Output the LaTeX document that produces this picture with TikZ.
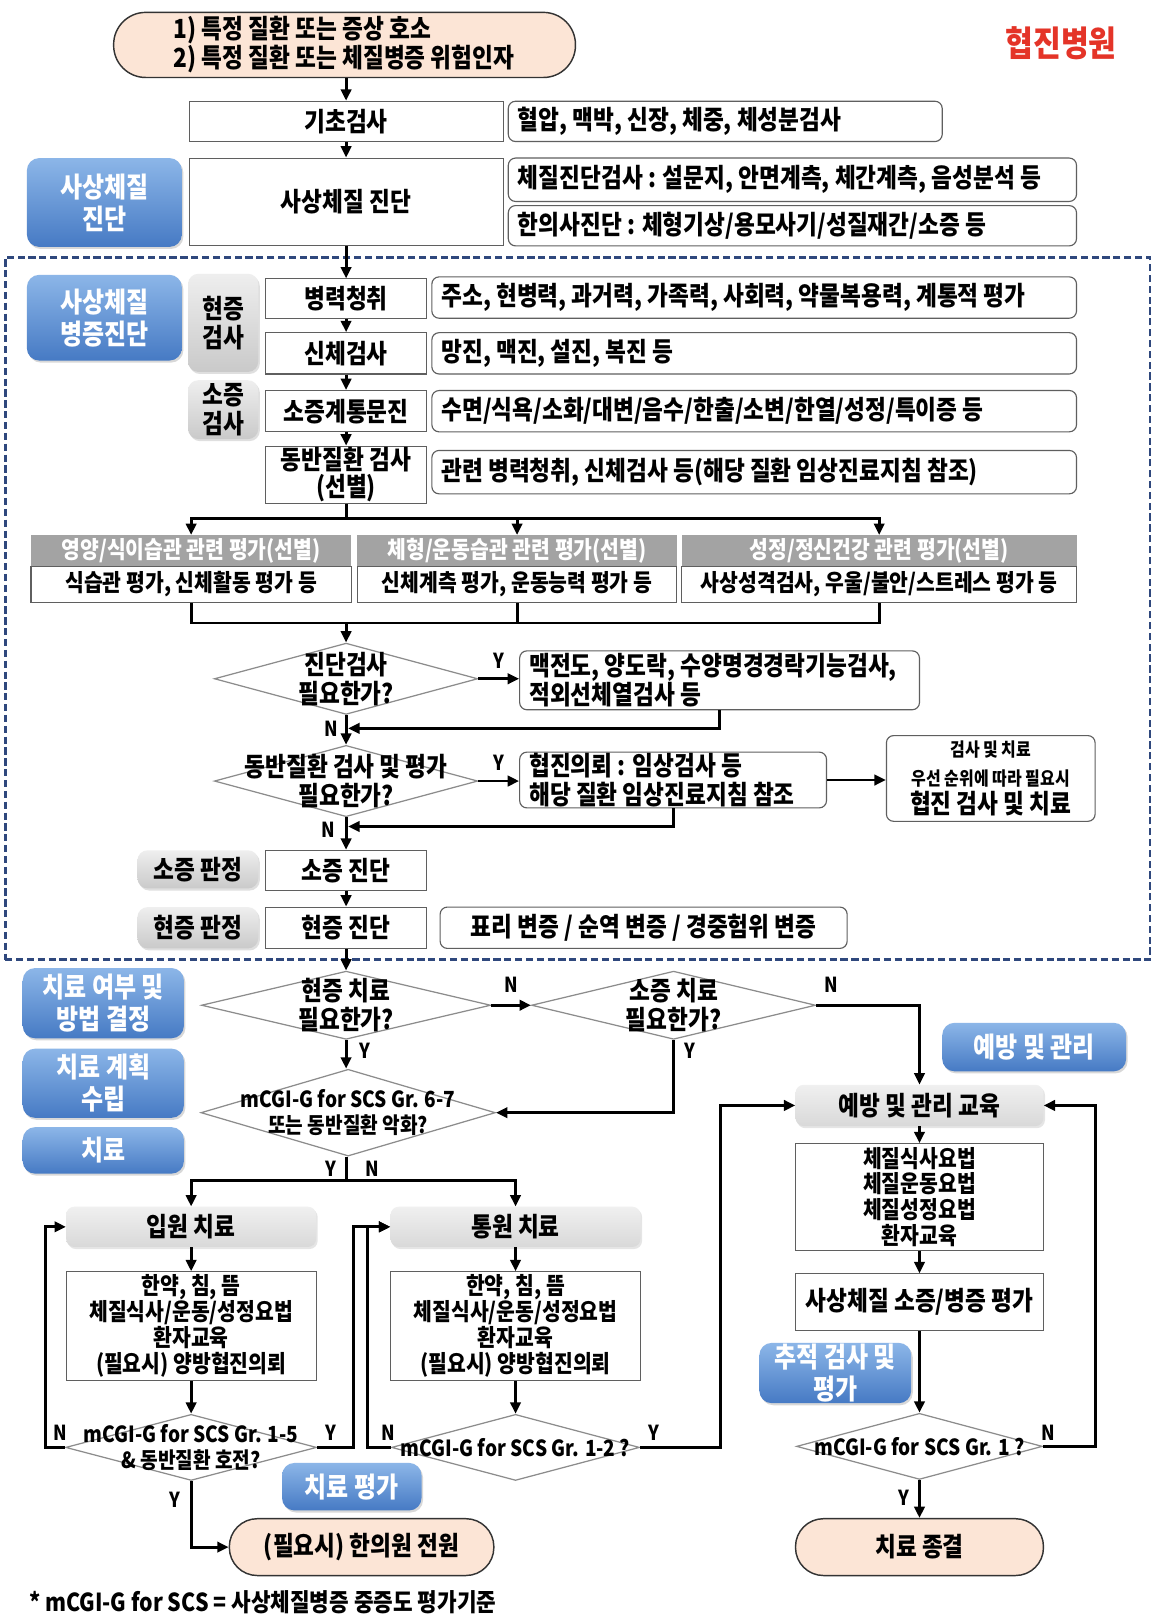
\documentclass[tikz,border=0pt]{standalone}
\usepackage{fontspec}
\setmainfont{Noto Sans CJK KR}[FakeStretch=0.86]
\usetikzlibrary{arrows.meta,shapes.geometric,shadows}
\definecolor{peach}{RGB}{252,229,214}
\definecolor{hjred}{RGB}{228,52,40}
\definecolor{dashblue}{RGB}{47,72,125}
\definecolor{hdrgray}{RGB}{163,163,163}
\definecolor{bordergray}{RGB}{95,95,95}
\definecolor{diagray}{RGB}{140,140,140}
\definecolor{bluetop}{RGB}{140,182,232}
\definecolor{bluebot}{RGB}{70,122,196}
\newcommand\fntA{\fontsize{25.5}{28}\selectfont\bfseries}
\newcommand\fntB{\fontsize{23}{25}\selectfont\bfseries}
\newcommand\fntC{\fontsize{21.5}{25}\selectfont\bfseries}
\newcommand\fntL{\fontsize{27}{31}\selectfont\bfseries}
\newcommand\fntS{\fontsize{18}{21}\selectfont\bfseries}
\newcommand\fntY{\fontsize{20}{22}\selectfont\bfseries}
\newcommand\fntF{\fontsize{24}{27}\selectfont\bfseries}
% box from corners: [extra]{style}{name}{x1}{y1}{x2}{y2}{text}
\newcommand\mkbox[8][]{\node[#2,minimum width={(#6-#4)*1pt},minimum height={(#7-#5)*1pt},#1] (#3) at ({(#4+#6)/2},{(#5+#7)/2}) {#8};}
% box with left-aligned text
\newcommand\mklbox[8][]{\node[#2,minimum width={(#6-#4)*1pt},minimum height={(#7-#5)*1pt}] (#3) at ({(#4+#6)/2},{(#5+#7)/2}) {};
  \node[anchor=west,inner sep=0pt,align=left,font=\fntA,#1] (#3t) at ({#4+9},{(#5+#7)/2}) {#8};}
% diamond: [font]{name}{cx}{cy}{w}{h}{text}
\newcommand\mkdia[7][]{\node[dia,minimum width=#5pt,minimum height=#6pt] (#2) at (#3,#4) {};
  \node[inner sep=0pt,align=center,font=\fntA,#1] (#2t) at (#3,#4) {#7};}
\begin{document}
\begin{tikzpicture}[x=1pt,y=-1pt,font=\fntA,
  sbox/.style={draw=bordergray,line width=1pt,fill=white,inner sep=1pt,align=center},
  rbox/.style={draw=bordergray,line width=1.1pt,fill=white,rounded corners=7pt,inner sep=1pt,align=center},
  blab/.style={rounded corners=12pt,top color=bluetop,bottom color=bluebot,draw=none,text=white,font=\fntL,align=center,inner sep=1pt,
    drop shadow={shadow xshift=1.5pt,shadow yshift=-2pt,opacity=0.3}},
  glab/.style={rounded corners=10pt,top color=gray!13,bottom color=gray!42,draw=none,align=center,inner sep=1pt,
    drop shadow={shadow xshift=1.5pt,shadow yshift=-2pt,opacity=0.25}},
  gbox/.style={rounded corners=8pt,top color=gray!12,bottom color=gray!30,draw=none,align=center,inner sep=1pt,
    drop shadow={shadow xshift=1.5pt,shadow yshift=-2pt,opacity=0.2}},
  hdr/.style={fill=hdrgray,draw=none,text=white,font=\fntB,inner sep=1pt},
  cbox/.style={draw=bordergray,line width=1pt,fill=white,inner sep=1pt,font=\fntB},
  dia/.style={diamond,draw=diagray,line width=1.2pt,fill=white,inner sep=0pt},
  oval/.style={draw=black!80,line width=1.4pt,fill=peach,inner sep=1pt,align=center},
  arr/.style={line width=2.8pt,-{Triangle[length=11pt,width=10pt]}},
  ln/.style={line width=2.8pt},
  yn/.style={font=\fntY,inner sep=0pt}]
\fill[white] (0,0) rectangle (1120,1570);
\useasboundingbox (0,0) rectangle (1120,1570);

% dashed zone
\node[draw=dashblue,line width=2.6pt,dash pattern=on 7pt off 3.5pt,minimum width=1108pt,minimum height=680pt,inner sep=0pt] (zone) at (559,589) {};

% top
\mkbox[rounded corners=31pt]{oval}{start}{110}{12}{557}{75}{}
\node[align=left,font=\fntA,inner sep=0pt] (startt) at (333,43) {1) 특정 질환 또는 증상 호소\\2) 특정 질환 또는 체질병증 위험인자};
\node[font=\fontsize{34}{38}\selectfont\bfseries,text=hjred] (hosp) at (1027,42) {협진병원};

\mkbox{sbox}{base}{183}{98}{487}{137}{기초검사}
\mklbox{rbox}{basei}{492}{98}{912}{137}{혈압, 맥박, 신장, 체중, 체성분검사}
\mkbox{sbox}{sas}{183}{153}{487}{238}{사상체질 진단}
\mklbox{rbox}{sasa}{492}{153}{1042}{195}{체질진단검사 : 설문지, 안면계측, 체간계측, 음성분석 등}
\mklbox{rbox}{sasb}{492}{199}{1042}{238}{한의사진단 : 체형기상/용모사기/성질재간/소증 등}
\mkbox{blab}{labA}{26}{153}{176}{239}{사상체질\\진단}

% zone contents
\mkbox{blab}{labB}{26}{266}{176}{349}{사상체질\\병증진단}
\mkbox{glab}{gA}{182}{265}{250}{360}{현증\\검사}
\mkbox{glab}{gB}{182}{368}{250}{425}{소증\\검사}
\mkbox{sbox}{hA}{257}{270}{413}{308}{병력청취}
\mklbox{rbox}{hAi}{418}{268}{1042}{308}{주소, 현병력, 과거력, 가족력, 사회력, 약물복용력, 계통적 평가}
\mkbox{sbox}{hB}{257}{322}{413}{362}{신체검사}
\mklbox{rbox}{hBi}{418}{322}{1042}{362}{망진, 맥진, 설진, 복진 등}
\mkbox{sbox}{hC}{257}{378}{413}{418}{소증계통문진}
\mklbox{rbox}{hCi}{418}{378}{1042}{418}{수면/식욕/소화/대변/음수/한출/소변/한열/성정/특이증 등}
\mkbox[font=\fontsize{25.5}{26.5}\selectfont\bfseries]{sbox}{hD}{257}{432}{413}{487}{동반질환 검사\\(선별)}
\mklbox{rbox}{hDi}{418}{436}{1042}{478}{관련 병력청취, 신체검사 등(해당 질환 임상진료지침 참조)}

\mkbox{hdr}{cAh}{30}{518}{340}{548}{영양/식이습관 관련 평가(선별)}
\mkbox{cbox}{cAb}{30}{548}{340}{583}{식습관 평가, 신체활동 평가 등}
\mkbox{hdr}{cBh}{346}{518}{655}{548}{체형/운동습관 관련 평가(선별)}
\mkbox{cbox}{cBb}{346}{548}{655}{583}{신체계측 평가, 운동능력 평가 등}
\mkbox{hdr}{cCh}{660}{518}{1042}{548}{성정/정신건강 관련 평가(선별)}
\mkbox{cbox}{cCb}{660}{548}{1042}{583}{사상성격검사, 우울/불안/스트레스 평가 등}

\mkdia{dA}{335}{657}{255}{69}{진단검사\\필요한가?}
\mklbox{rbox}{eA}{503}{630}{890}{687}{맥전도, 양도락, 수양명경경락기능검사,\\적외선체열검사 등}
\mkdia{dB}{335}{756}{255}{69}{동반질환 검사 및 평가\\필요한가?}
\mklbox{rbox}{eB}{503}{728}{800}{782}{협진의뢰 : 임상검사 등\\해당 질환 임상진료지침 참조}
\mkbox{rbox}{eC}{858}{712}{1060}{795}{{\fntS 검사 및 치료}\\{\fntS 우선 순위에 따라 필요시}\\협진 검사 및 치료}

\mkbox{glab}{gC}{133}{823}{250}{860}{소증 판정}
\mkbox{sbox}{sj}{257}{823}{413}{862}{소증 진단}
\mkbox{glab}{gD}{133}{878}{250}{918}{현증 판정}
\mkbox{sbox}{hj}{257}{878}{413}{918}{현증 진단}
\mkbox{rbox}{hji}{426}{878}{820}{918}{표리 변증 / 순역 변증 / 경중험위 변증}

% lower part
\mkbox{blab}{labC}{22}{937}{178}{1005}{치료 여부 및\\방법 결정}
\mkbox{blab}{labD}{22}{1015}{178}{1082}{치료 계획\\수립}
\mkbox{blab}{labE}{22}{1091}{178}{1136}{치료}

\mkdia{dC}{335}{973}{280}{66}{현증 치료\\필요한가?}
\mkdia{dD}{652}{973}{275}{66}{소증 치료\\필요한가?}
\mkdia[font=\fntC]{dE}{337}{1077}{285}{84}{mCGI-G for SCS Gr. 6-7\\또는 동반질환 악화?}

\mkbox{gbox}{tA}{64}{1168}{306}{1207}{입원 치료}
\mkbox[font=\fntB]{sbox}{tAb}{64}{1231}{306}{1336}{한약, 침, 뜸\\체질식사/운동/성정요법\\환자교육\\(필요시) 양방협진의뢰}
\mkdia[font=\fntC]{dF}{185}{1401}{243}{64}{mCGI-G for SCS Gr. 1-5\\\& 동반질환 호전?}
\mkbox{gbox}{tB}{378}{1168}{620}{1207}{통원 치료}
\mkbox[font=\fntB]{sbox}{tBb}{378}{1231}{620}{1336}{한약, 침, 뜸\\체질식사/운동/성정요법\\환자교육\\(필요시) 양방협진의뢰}
\mkdia[font=\fntC]{dG}{499}{1401}{240}{64}{mCGI-G for SCS Gr. 1-2 ?}
\mkbox[rounded corners=27pt]{oval}{oA}{222}{1470}{478}{1525}{(필요시) 한의원 전원}
\mkbox{blab}{labF}{273}{1416}{408}{1462}{치료 평가}

\mkbox{blab}{labG}{912}{990}{1090}{1037}{예방 및 관리}
\mkbox{gbox}{pA}{770}{1050}{1010}{1090}{예방 및 관리 교육}
\mkbox[font=\fntB]{sbox}{pB}{770}{1107}{1010}{1210}{체질식사요법\\체질운동요법\\체질성정요법\\환자교육}
\mkbox{sbox}{pC}{770}{1233}{1010}{1288}{사상체질 소증/병증 평가}
\mkbox{blab}{labH}{735}{1300}{882}{1358}{추적 검사 및\\평가}
\mkdia[font=\fntC]{dH}{890}{1400}{238}{64}{mCGI-G for SCS Gr. 1 ?}
\mkbox[rounded corners=27pt]{oval}{oB}{770}{1470}{1010}{1525}{치료 종결}

\node[anchor=west,font=\fntF,inner sep=0pt] (foot) at (28,1551) {* mCGI-G for SCS = 사상체질병증 중증도 평가기준};

% connectors
\draw[arr] (start.south -| base.north) -- (base.north);
\draw[arr] (base) -- (sas);
\draw[arr] (sas) -- (hA);
\draw[arr] (hA) -- (hB);
\draw[arr] (hB) -- (hC);
\draw[arr] (hC) -- (hD);
\coordinate (s1) at (335,502);
\draw[ln] (hD.south) -- (s1);
\draw[arr] (s1) -| (cAh.north);
\draw[arr] (s1) -| (cCh.north);
\draw[arr] (s1 -| cBh.north) -- (cBh.north);
\coordinate (s2) at (335,603);
\draw[ln] (cAb.south) |- (s2);
\draw[ln] (cCb.south) |- (s2);
\draw[ln] (cBb.south) -- (cBb.south |- s2);
\draw[arr] (s2) -- (dA.north);
\draw[arr] (dA.east) -- (eA.west |- dA.east);
\coordinate (m1) at (337,705);
\draw[arr] (eA.south) |- (m1);
\draw[arr] (dA.south) -- (dB.north);
\draw[arr] (dB.east) -- (eB.west |- dB.east);
\draw[arr] (eB.east) -- (eC.west |- eB.east);
\coordinate (m2) at (337,800);
\draw[arr] (eB.south) |- (m2);
\draw[arr] (dB.south) -- (sj.north);
\draw[arr] (sj) -- (hj);
\draw[arr] (hj.south) -- (dC.north);
\draw[arr] (dC.east) -- (dD.west);
\draw[arr] (dD.east) -| (pA.north);
\draw[arr] (dC.south) -- (dC.south |- dE.north);
\draw[arr] (dD.south) |- (dE.east);
\coordinate (s3) at (335,1143);
\draw[ln] (dE.south -| s3) -- (s3);
\draw[arr] (s3) -| (tA.north);
\draw[arr] (s3) -| (tB.north);
\draw[arr] (tA) -- (tAb);
\draw[arr] (tAb) -- (dF);
\draw[arr] (tB) -- (tBb);
\draw[arr] (tBb) -- (dG);
\coordinate (v0) at (44,0);
\coordinate (v1) at (342,0);
\coordinate (v2) at (356,0);
\coordinate (v3) at (697,0);
\coordinate (v4) at (1060,0);
\draw[arr] (dF.west) -- (dF.west -| v0) |- (tA.west);
\draw[arr] (dF.east) -- (dF.east -| v1) |- (tB.west);
\draw[arr] (dG.west) -- (dG.west -| v2) |- (tB.west);
\draw[arr] (dG.east) -- (dG.east -| v3) |- (pA.west);
\draw[arr] (dF.south) |- (oA.west);
\draw[arr] (pA) -- (pB);
\draw[arr] (pB) -- (pC);
\draw[arr] (pC) -- (dH);
\draw[arr] (dH) -- (oB);
\draw[arr] (dH.east) -- (dH.east -| v4) |- (pA.east);

% Y/N labels
\node[yn] (ynA1) at (483,640) {Y};
\node[yn] (ynA2) at (321,705) {N};
\node[yn] (ynB1) at (483,738) {Y};
\node[yn] (ynB2) at (318,803) {N};
\node[yn] (ynC1) at (495,953) {N};
\node[yn] (ynD1) at (805,953) {N};
\node[yn] (ynC2) at (353,1017) {Y};
\node[yn] (ynD2) at (668,1017) {Y};
\node[yn] (ynE1) at (320,1131) {Y};
\node[yn] (ynE2) at (360,1131) {N};
\node[yn] (ynF1) at (58,1387) {N};
\node[yn] (ynF2) at (320,1387) {Y};
\node[yn] (ynF3) at (169,1452) {Y};
\node[yn] (ynG1) at (376,1387) {N};
\node[yn] (ynG2) at (633,1387) {Y};
\node[yn] (ynH1) at (1015,1387) {N};
\node[yn] (ynH2) at (875,1450) {Y};
\end{tikzpicture}
\end{document}
